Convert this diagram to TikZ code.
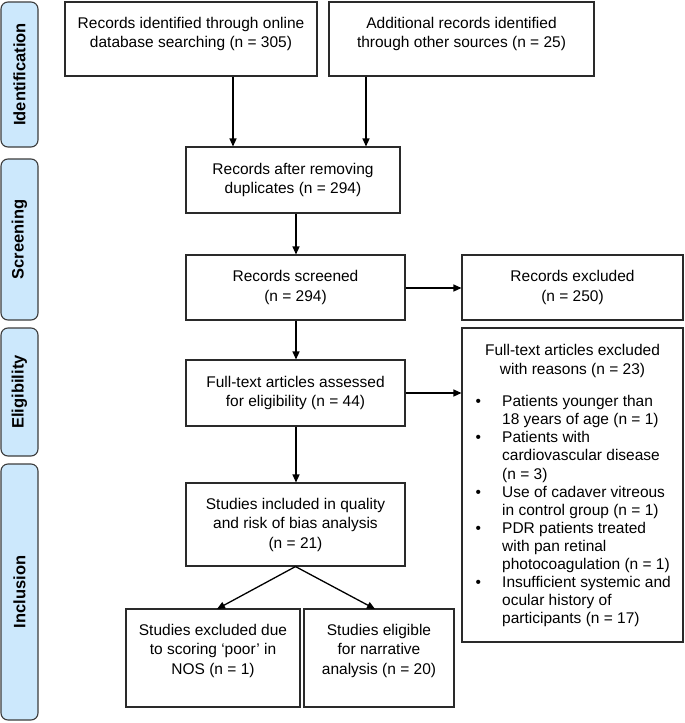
\documentclass[tikz,border=0pt]{standalone}
\usepackage{fontspec}
\setmainfont{Liberation Sans}
\usetikzlibrary{arrows.meta}
\definecolor{bandfill}{HTML}{CCE8FC}
\definecolor{bandline}{HTML}{3C3C3C}
\definecolor{boxline}{HTML}{2A2A2A}
\begin{document}
\begin{tikzpicture}[x=1pt,y=-1pt,
  box/.style={draw=boxline, line width=1.1pt, rectangle, inner sep=0pt, align=center,
    font=\fontsize{15.5}{19.5}\selectfont},
  txt/.style={inner sep=0pt, align=center, font=\fontsize{15.5}{19.5}\selectfont},
  listtxt/.style={inner sep=0pt, align=left, font=\fontsize{15.5}{18.1}\selectfont},
  band/.style={draw=bandline, fill=bandfill, line width=1.1pt, rounded corners=7pt,
    rotate=90, inner sep=0pt, font=\bfseries\fontsize{16.5}{20}\selectfont},
  arr/.style={line width=1.3pt, -{Triangle[length=8pt,width=7pt]}}]

\useasboundingbox (0,0) rectangle (685,723);

% phase bands
\node[band, minimum width=145pt, minimum height=37pt] (bid) at (19.5,74.5) {Identification};
\node[band, minimum width=161pt, minimum height=37pt] (bsc) at (19.5,239.5) {Screening};
\node[band, minimum width=128pt, minimum height=37pt] (bel) at (19.5,392) {Eligibility};
\node[band, minimum width=256pt, minimum height=37pt] (bin) at (19.5,592) {Inclusion};

% boxes
\node[box, minimum width=252pt, minimum height=74pt] (b1) at (191,39) {};
\node[txt] (t1) at (191,34) {Records identified through online\\database searching (n = 305)};
\node[box, minimum width=265pt, minimum height=74pt] (b2) at (461.5,39) {};
\node[txt] (t2) at (461.5,34) {Additional records identified\\through other sources (n = 25)};

\node[box, minimum width=214pt, minimum height=66pt] (b3) at (293,180) {Records after removing\\duplicates (n = 294)};
\node[box, minimum width=219pt, minimum height=65pt] (b4) at (295.5,287.5) {Records screened\\(n = 294)};
\node[box, minimum width=221pt, minimum height=65pt] (b5) at (572.5,287.5) {Records excluded\\(n = 250)};
\node[box, minimum width=219pt, minimum height=66pt] (b6) at (295.5,393) {Full-text articles assessed\\for eligibility (n = 44)};

\node[box, minimum width=221pt, minimum height=314pt] (b7) at (572.5,485) {};
\node[txt] (t7) at (572.5,361) {Full-text articles excluded\\with reasons (n = 23)};
\node[listtxt, anchor=west] (l7) at (475.3,511.2) {%
\makebox[26.7pt][l]{•}Patients younger than\\
\hspace*{26.7pt}18 years of age (n = 1)\\
\makebox[26.7pt][l]{•}Patients with\\
\hspace*{26.7pt}cardiovascular disease\\
\hspace*{26.7pt}(n = 3)\\
\makebox[26.7pt][l]{•}Use of cadaver vitreous\\
\hspace*{26.7pt}in control group (n = 1)\\
\makebox[26.7pt][l]{•}PDR patients treated\\
\hspace*{26.7pt}with pan retinal\\
\hspace*{26.7pt}photocoagulation (n = 1)\\
\makebox[26.7pt][l]{•}Insufficient systemic and\\
\hspace*{26.7pt}ocular history of\\
\hspace*{26.7pt}participants (n = 17)};

\node[box, minimum width=219pt, minimum height=83pt] (b8) at (295.5,524.5) {Studies included in quality\\and risk of bias analysis\\(n = 21)};

\node[box, minimum width=174pt, minimum height=98pt] (b9) at (213,658) {};
\node[txt] (t9) at (213,650.5) {Studies excluded due\\to scoring ‘poor’ in\\NOS (n = 1)};
\node[box, minimum width=150pt, minimum height=98pt] (b10) at (379,658) {};
\node[txt] (t10) at (379,650.5) {Studies eligible\\for narrative\\analysis (n = 20)};

% helper coordinates
\coordinate (xa) at (233,0);
\coordinate (xb) at (366,0);
\coordinate (xc) at (296,0);
\coordinate (ya) at (0,288);
\coordinate (yb) at (0,393);
\coordinate (e9) at (217,609);
\coordinate (e10) at (375,609);

% connectors
\draw[arr] (b1.south -| xa) -- (b3.north -| xa);
\draw[arr] (b2.south -| xb) -- (b3.north -| xb);
\draw[arr] (b3.south -| xc) -- (b4.north -| xc);
\draw[arr] (b4.east |- ya) -- (b5.west |- ya);
\draw[arr] (b4.south -| xc) -- (b6.north -| xc);
\draw[arr] (b6.east |- yb) -- (b7.west |- yb);
\draw[arr] (b6.south -| xc) -- (b8.north -| xc);
\draw[arr] (b8.south) -- (e9);
\draw[arr] (b8.south) -- (e10);
\end{tikzpicture}
\end{document}
